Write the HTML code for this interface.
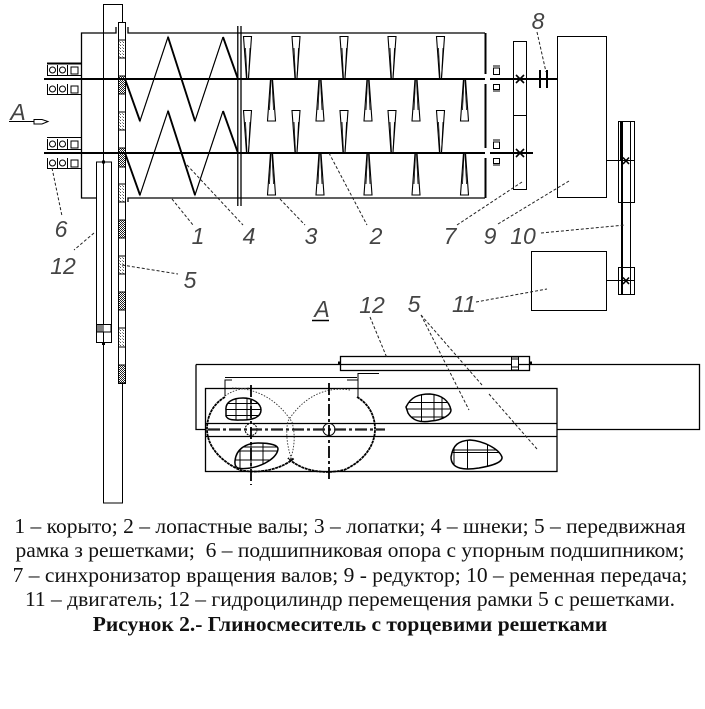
<!DOCTYPE html>
<html><head><meta charset="utf-8">
<style>
html,body{margin:0;padding:0;background:#fff;width:705px;height:709px;overflow:hidden}
svg{position:absolute;left:0;top:0}
.cap{font-family:"Liberation Serif",serif;font-size:21.5px;fill:#111;text-anchor:middle}
.lb{font-family:"Liberation Sans",sans-serif;font-style:italic;font-size:23px;fill:#444;text-anchor:middle}
.d{stroke:#222;stroke-width:1;stroke-dasharray:3 2;fill:none}
.t{stroke:#000;stroke-width:1;fill:none}
.m{stroke:#000;stroke-width:1.3;fill:none}
</style></head><body>
<svg width="705" height="709" viewBox="0 0 705 709" xmlns="http://www.w3.org/2000/svg">
<defs>
<pattern id="dk" width="2" height="2" patternUnits="userSpaceOnUse"><rect width="2" height="2" fill="#fff"/><rect width="1" height="1" fill="#222"/><rect x="1" y="1" width="1" height="1" fill="#222"/></pattern>
<pattern id="lt" width="3" height="3" patternUnits="userSpaceOnUse"><rect width="3" height="3" fill="#fff"/><rect width="1" height="1" fill="#555"/><rect x="2" y="2" width="1" height="1" fill="#999"/></pattern>
<g id="pd"><path d="M-4 36.5H4L1 78.5H-1Z" fill="#fff" stroke="#000" stroke-width="1.1"/><path d="M2.5 48L1 78M-2 48L-.5 78" stroke="#000" stroke-width=".8" fill="none"/></g>
<g id="pu"><path d="M-4 121H4L1 79H-1Z" fill="#fff" stroke="#000" stroke-width="1.1"/><path d="M-2 110L-.5 80M2 110L.5 80" stroke="#000" stroke-width=".8" fill="none"/></g>
<g id="bb"><path d="M47.500 0V10M57.500 0V10M67.500 0V10" stroke="#000" fill="none"/><circle cx="52.500" cy="5" r="3" fill="none" stroke="#000"/><circle cx="62.500" cy="5" r="3" fill="none" stroke="#000"/><rect x="71" y="2" width="7" height="7" fill="none" stroke="#000"/></g>
<g id="sc"><path d="M125 79L140 121L168 37M195 121L223 37" stroke="#000" stroke-width="1.1" fill="none"/><path d="M125 79L140 121M168 37L195 121M223 37L238 79" stroke="#000" stroke-width="1.9" fill="none"/><path d="M140 121L168 37L195 121L223 37" stroke="#000" stroke-width="1" fill="none"/></g>
<g id="rb"><rect x="493.5" y="68" width="6" height="6.5" class="t"/><path d="M493 66H500" class="t"/><rect x="493.5" y="84.5" width="6" height="5" class="t"/><path d="M493 91H500" class="t"/></g>
<clipPath id="c1"><path d="M226 410C225 402 233 398 243 398C254 398 261 404 261 410C261 417 253 420 243 420C236 420 228 421 226 416Z"/></clipPath>
<clipPath id="c2"><path d="M235 461C236 449 246 443 258 443C270 443 278 445 278 449C277 458 263 466 250 468C241 469 234 470 235 461Z"/></clipPath>
<clipPath id="c3"><path d="M406 407C411 397 418 394 430 394C442 395 449 401 451 410C451 414 444 420 431 421C420 423 412 420 408 413Z"/></clipPath>
<clipPath id="c4"><path d="M451 457C453 445 458 441 470 440C484 441 499 449 502 457C503 463 490 466 479 468C466 470 451 470 451 457Z"/></clipPath>
</defs>
<rect width="705" height="709" fill="#fff"/>

<!-- caption -->
<text class="cap" x="350" y="533">1 – корыто; 2 – лопастные валы; 3 – лопатки; 4 – шнеки; 5 – передвижная</text>
<text class="cap" x="350" y="557" xml:space="preserve">рамка з решетками;  6 – подшипниковая опора с упорным подшипником;</text>
<text class="cap" x="350" y="582">7 – синхронизатор вращения валов; 9 - редуктор; 10 – ременная передача;</text>
<text class="cap" x="350" y="606">11 – двигатель; 12 – гидроцилиндр перемещения рамки 5 с решетками.</text>
<text class="cap" x="350" y="631" font-weight="bold">Рисунок 2.- Глиносмеситель с торцевими решетками</text>

<!-- housing -->
<path d="M116 27V33H81.500V198H96M128 27V33H485M128 202V198H485" class="m"/>
<path d="M485.5 33V74M485.5 84V148M485.5 158V198" stroke="#000" stroke-width="2" fill="none"/>
<path d="M237.8 26V206M241 26V206" class="m"/>

<!-- bearings -->
<path d="M47 63.5H81" stroke="#000" stroke-width="2"/>
<use href="#bb" y="65"/><path d="M47 75.500H81" class="t"/><use href="#bb" y="84"/><path d="M47 94.5H81" class="t"/>
<path d="M47 137.5H81" class="t"/>
<use href="#bb" y="139"/><path d="M47 149.500H81" class="t"/><use href="#bb" y="158"/><path d="M47 168.5H81" class="t"/>
<use href="#rb"/><use href="#rb" y="74"/>

<!-- screws -->
<use href="#sc"/><use href="#sc" y="74"/>

<!-- paddles -->
<use href="#pd" x="247.5"/><use href="#pd" x="296"/><use href="#pd" x="344"/><use href="#pd" x="392"/><use href="#pd" x="440.5"/>
<use href="#pd" x="247.5" y="74"/><use href="#pd" x="296" y="74"/><use href="#pd" x="344" y="74"/><use href="#pd" x="392" y="74"/><use href="#pd" x="440.5" y="74"/>
<use href="#pu" x="271.5"/><use href="#pu" x="320"/><use href="#pu" x="368"/><use href="#pu" x="416"/><use href="#pu" x="464.5"/>
<use href="#pu" x="271.5" y="74"/><use href="#pu" x="320" y="74"/><use href="#pu" x="368" y="74"/><use href="#pu" x="416" y="74"/><use href="#pu" x="464.5" y="74"/>

<!-- moving frame -->
<path d="M122.5 383V503H103.5V342" class="t" />
<rect x="118.5" y="22.5" width="7" height="361" fill="#fff" stroke="#000"/>
<path d="M103.5 162V4.5H122.5V22" class="t"/>
<rect x="118.5" y="40" width="7" height="18" fill="url(#lt)" stroke="#000"/>
<rect x="118.5" y="76" width="7" height="18" fill="url(#dk)" stroke="#000"/>
<rect x="118.5" y="112" width="7" height="18" fill="url(#lt)" stroke="#000"/>
<rect x="118.5" y="148" width="7" height="19" fill="url(#dk)" stroke="#000"/>
<rect x="118.5" y="184" width="7" height="18" fill="url(#lt)" stroke="#000"/>
<rect x="118.5" y="220" width="7" height="18" fill="url(#dk)" stroke="#000"/>
<rect x="118.5" y="256" width="7" height="18" fill="url(#lt)" stroke="#000"/>
<rect x="118.5" y="292" width="7" height="18" fill="url(#dk)" stroke="#000"/>
<rect x="118.5" y="328" width="7" height="19" fill="url(#lt)" stroke="#000"/>
<rect x="118.5" y="365" width="7" height="18" fill="url(#dk)" stroke="#000"/>

<!-- shafts -->
<path d="M44 79H485M490 79H557M44 153H485M490 153H533" stroke="#000" stroke-width="2"/>

<!-- cylinder -->
<rect x="96.5" y="162" width="15" height="180.5" fill="#fff" stroke="#000"/>
<path d="M103.5 4.5V342" class="t"/>
<rect x="97" y="324.5" width="14" height="7.5" fill="#fff" stroke="#000"/>
<path d="M99 325V332M101 325V332M103 325V332" class="t"/>
<rect x="102" y="160.5" width="3" height="3"/><rect x="102" y="342" width="3" height="3"/>

<!-- sync -->
<rect x="513.5" y="41.5" width="13" height="148" fill="#fff" stroke="#000"/>
<path d="M513.5 115.5H526.5" class="t"/>
<path d="M490 79H557M510 153H533" stroke="#000" stroke-width="2"/>
<path d="M516 75L524 83M524 75L516 83M516 149L524 157M524 149L516 157" stroke="#000" stroke-width="1.6"/>
<path d="M540 70V88M547 70V88" stroke="#000" stroke-width="2"/>
<rect x="557.5" y="36.5" width="49" height="161" fill="#fff" stroke="#000"/>
<rect x="531.5" y="251.5" width="75" height="59" fill="#fff" stroke="#000"/>

<!-- belt -->
<rect x="618.5" y="121.5" width="16" height="81" class="t"/>
<rect x="618.5" y="267.5" width="16" height="27" class="t"/>
<path d="M620.5 121V161M630.5 121V294" class="t"/>
<path d="M622 121V294" stroke="#000" stroke-width="2"/>
<path d="M606 160.5H635M606 280.5H635" class="t"/>
<path d="M623 157.5L629 164M629 157.5L623 164M623 277.5L629 284M629 277.5L623 284" stroke="#000" stroke-width="1.6"/>

<!-- view A -->
<rect x="205.5" y="388.5" width="351.5" height="83" class="m"/>
<path d="M205.5 423.5H557M205.5 436.5H557" class="m"/>
<rect x="340.5" y="356.5" width="189" height="14" class="m"/>
<path d="M196 364.5H340M530 364.5H699.5V429.5H557M196 364.5V429.5H206M340 364.5H529" class="m"/>
<rect x="511.5" y="357" width="7" height="13" fill="#fff" stroke="#000"/>
<path d="M512 359H518M512 367H518" class="t"/>
<rect x="338" y="361.5" width="2.5" height="2.5"/><rect x="529.5" y="361.5" width="2.5" height="2.5"/>
<path d="M225 396V380H232M225 377.5H357M347 380H358V373.5H379M358 380V397" class="t"/>

<!-- discs -->
<path d="M225 397C213 404 207 416 207 429C207 447 222 462 240 470C262 475 285 467 294 458" stroke="#000" stroke-width="1.8" fill="none" stroke-dasharray="3 .6"/>
<path d="M357 397C369 404 375 416 375 429C375 447 362 462 344 470C322 475 300 470 288 458" stroke="#000" stroke-width="1.8" fill="none" stroke-dasharray="3 .6"/>
<path d="M232 388C262 388 281 405 292 422C296 436 294 450 290 460M350 390C318 385 298 405 288 421C285 434 288 450 292 460M225 396C232 391 238 389 250 388" stroke="#333" stroke-width=".9" fill="none" stroke-dasharray="1.5 1.5"/>
<g clip-path="url(#c1)" stroke="#000" stroke-width="1" fill="none"><path d="M236 398V421M247 398V421M251 398V421M225 403.5H262M225 409.5H262M225 415.5H262"/></g>
<g clip-path="url(#c2)" stroke="#000" stroke-width="1" fill="none"><path d="M240 443V470M251 443V470M263 443V470M234 447H279M234 451H279M234 460H279"/></g>
<g clip-path="url(#c3)" stroke="#000" stroke-width="1" fill="none"><path d="M421.500 394V423M434 394V423M442 394V423M406 402.500H452M406 409H452M406 417H452"/></g>
<g clip-path="url(#c4)" stroke="#000" stroke-width="1" fill="none"><path d="M454 440V470M467.500 440V470M487.500 440V470M451 450H503M451 452.500H503"/></g>
<path d="M226 410C225 402 233 398 243 398C254 398 261 404 261 410C261 417 253 420 243 420C236 420 228 421 226 416Z" fill="none" stroke="#000" stroke-width="1.5"/>
<path d="M235 461C236 449 246 443 258 443C270 443 278 445 278 449C277 458 263 466 250 468C241 469 234 470 235 461Z" fill="none" stroke="#000" stroke-width="1.5"/>
<path d="M406 407C411 397 418 394 430 394C442 395 449 401 451 410C451 414 444 420 431 421C420 423 412 420 408 413Z" fill="none" stroke="#000" stroke-width="1.5"/>
<path d="M451 457C453 445 458 441 470 440C484 441 499 449 502 457C503 463 490 466 479 468C466 470 451 470 451 457Z" fill="none" stroke="#000" stroke-width="1.5"/>
<circle cx="251" cy="429.500" r="6" fill="#fff" stroke="#000" stroke-dasharray="2 1"/>
<circle cx="329" cy="429.500" r="6" fill="#fff" stroke="#000"/>
<path d="M208 429.500H385" stroke="#222" stroke-width="2.200" stroke-dasharray="12 3 3 3" fill="none"/>
<path d="M251 385V485M329 383V481" stroke="#000" stroke-width="1.8" stroke-dasharray="12 3 3 3" fill="none"/>

<!-- leaders -->
<path class="d" d="M52 168L62 216M94 233L74 250M172 199L193 225M187 165L243 225M280 199L305 225M329 153L367 225M457 225L522 182M498 224L569 181M541 233L625 225M476 302L547 289M537 32L546 72M122 265L178 274M370 317L387 358M421 315L469 410M421 315L482 385M489 394L537 449"/>

<!-- labels -->
<text class="lb" x="198" y="244">1</text>
<text class="lb" x="249" y="244">4</text>
<text class="lb" x="311" y="244">3</text>
<text class="lb" x="376" y="244">2</text>
<text class="lb" x="450" y="244">7</text>
<text class="lb" x="490" y="244">9</text>
<text class="lb" x="523" y="244">10</text>
<text class="lb" x="538" y="29">8</text>
<text class="lb" x="61" y="237">6</text>
<text class="lb" x="63" y="274">12</text>
<text class="lb" x="190" y="288">5</text>
<text class="lb" x="18" y="120">A</text>
<text class="lb" x="322" y="317">A</text>
<text class="lb" x="372" y="313">12</text>
<text class="lb" x="414" y="312">5</text>
<text class="lb" x="464" y="312">11</text>
<path d="M312 320.500H329" stroke="#000" stroke-width="1.4"/>
<path d="M9 121.500H34" class="t"/><path d="M34 119.500H42L48 121.500L42 124H34Z" fill="#fff" stroke="#000"/>
</svg>
</body></html>
